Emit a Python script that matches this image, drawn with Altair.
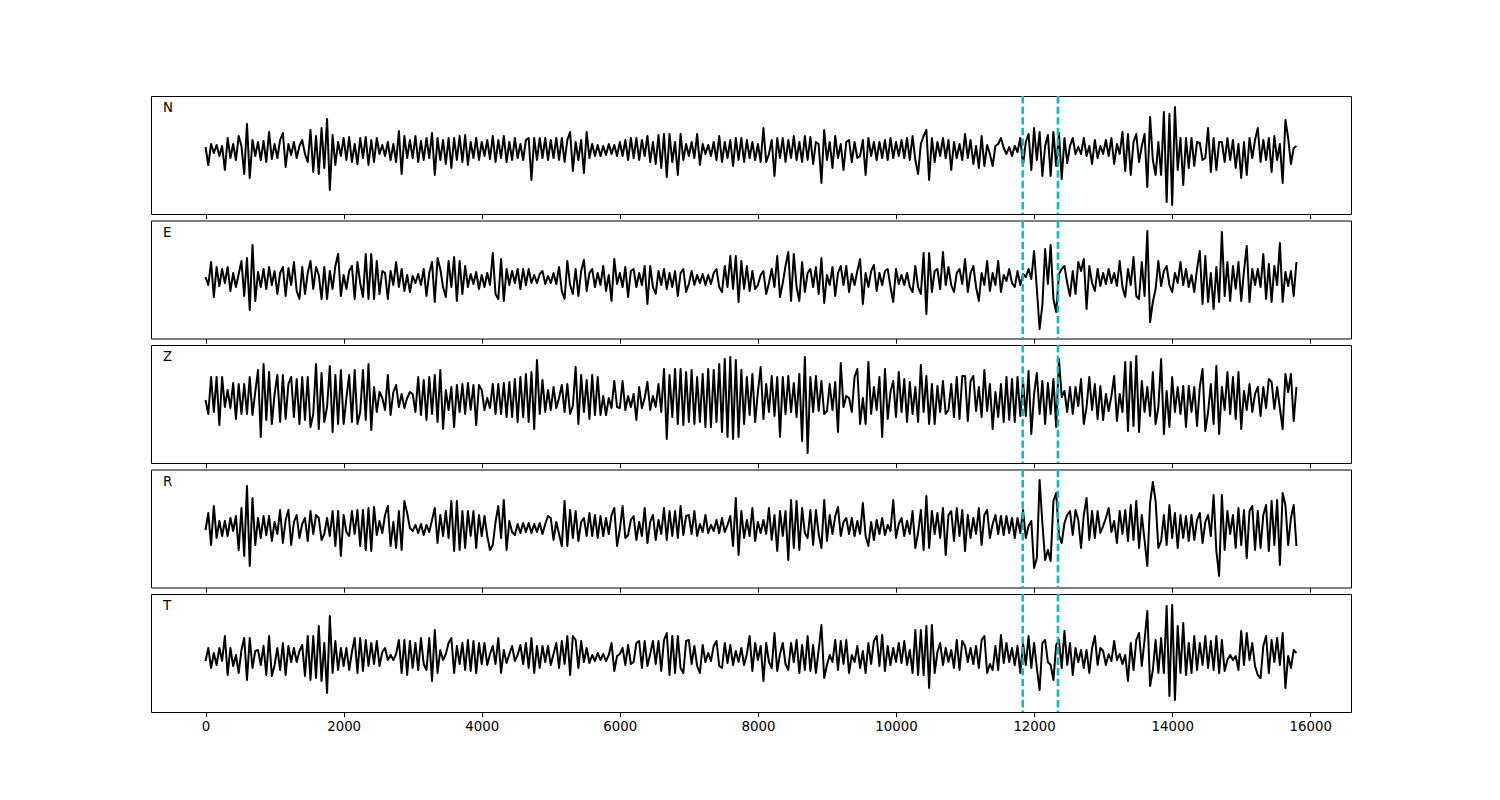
import altair as alt
import numpy as np
import pandas as pd

# sample spacing of the traces (time units)
STEP = 40
components = ["N", "E", "Z", "R", "T"]
tick_values = [0, 2000, 4000, 6000, 8000, 10000, 12000, 14000, 16000]
arrivals = [11835, 12345]

# amplitudes, 1000-unit chunks
N_chunks = [
    [3,-15,6,-3,5,-6,4,-20,12,-8,6,-10,14,4,-24,26,-28,10,-6,8,-10,9,-12,18,-9],
    [6,-8,10,17,-17,6,-5,8,-8,4,10,-4,-12,20,-22,14,-24,22,-18,31,-40,15,-15,8,-6],
    [12,-10,13,-12,6,-14,12,-8,13,-15,10,-12,12,-4,5,-6,8,-10,6,-12,19,-24,14,-8,10],
    [-8,14,-12,9,-10,12,-8,17,-25,12,-10,10,-14,12,-18,12,-10,14,-12,15,-15,8,-8,12,-10],
    [8,-6,10,-9,14,-12,10,-8,14,-12,8,-10,12,-8,6,-10,10,12,-30,12,-10,12,-8,12,-10],
    [10,-8,12,-10,12,-12,10,18,-21,8,-10,10,-23,18,-8,6,-6,5,-6,4,-5,6,-4,5,-6],
    [8,-6,10,-10,12,-8,12,-10,10,-6,14,-12,8,-14,15,-18,16,-27,16,-12,8,-25,16,-10,6],
    [-6,8,-8,16,-15,6,-4,5,-6,8,-10,14,-12,8,-8,10,-16,12,-10,12,-12,10,-8,8,-10],
    [6,-12,22,-12,-4,10,-26,12,-8,12,-12,10,-8,14,-10,8,-12,14,-10,13,-14,8,6,-33,20],
    [-10,8,-18,14,-8,6,-20,8,10,-12,8,-8,-6,10,-25,12,-6,8,-10,8,-8,10,-10,12,-8],
    [8,-6,10,-8,12,-10,14,-10,-24,6,14,20,-30,12,-12,8,-6,12,-8,10,-20,8,-8,6,-10],
    [16,-8,10,-14,4,-18,14,-16,5,-4,-16,4,6,12,2,-4,3,-6,4,-2,12,-15,8,16,-20],
    [22,-10,18,-26,4,15,-26,18,-16,17,-29,12,-13,4,12,-4,3,-4,12,-6,4,-14,10,-8,4],
    [-4,10,-6,12,-14,6,-4,18,-21,16,-25,8,16,-12,4,16,-37,33,-10,-25,8,-25,38,-52,36],
    [-55,43,-20,12,-35,12,-18,12,-16,8,7,-10,-8,22,-22,12,-20,8,8,-12,12,-10,10,-18,6],
    [-28,8,-25,12,-8,10,22,-12,10,-10,12,-22,14,-10,6,-33,30,12,-14,2,4],
]
E_chunks = [
    [2,-6,17,-18,12,-7,10,-4,12,-12,6,-8,5,18,-17,21,-31,34,-22,7,-8,10,-10,12,-6],
    [8,-15,6,12,-17,11,-6,17,-12,-20,12,-15,6,18,-10,12,4,-20,12,-20,8,-10,13,25,-17],
    [4,-10,8,13,-20,17,-4,-18,25,-20,25,-20,18,-15,8,6,-20,8,-6,17,-8,10,-12,4,-13],
    [3,-4,5,-6,10,-17,6,17,-23,21,10,-8,-18,18,-8,22,-22,18,-15,13,-8,5,-5,7,-10],
    [4,-8,6,-6,26,-15,-20,20,-22,10,-6,8,-4,10,-10,10,-6,10,-4,4,-4,5,8,-5,3],
    [-4,6,-5,12,-12,-20,18,-6,-15,10,-17,8,19,-12,6,10,-8,6,-6,13,-12,4,-22,20,-5],
    [6,-8,12,-18,8,10,-8,6,-6,13,-25,13,-8,-15,8,-6,10,-10,6,-8,8,-17,6,10,-13],
    [-5,8,-6,4,-4,5,-6,4,-5,6,10,-8,-13,13,-8,23,-10,23,-23,18,-10,13,-12,8,-10],
    [-6,4,8,-15,-4,10,-8,23,-18,-4,13,27,-22,25,-8,-22,17,-13,6,10,-8,12,-15,21,-24],
    [4,-6,12,-17,6,13,-6,13,-13,5,-6,8,20,-25,6,-8,8,14,-12,6,-6,8,10,-8,-23],
    [10,-5,4,-6,6,-8,-13,13,-8,-15,26,-35,26,-13,8,10,-10,27,-6,12,-6,-13,6,10,-5],
    [20,-13,6,13,-8,-22,6,-6,18,-12,6,-6,18,-13,4,-2,10,-4,-8,8,-6,5,2,10,0],
    [28,-10,-50,-26,30,-5,34,-20,-33,5,10,13,-4,-17,8,-15,17,8,20,-30,13,-4,-12,10,-7],
    [6,-5,10,-4,6,-7,18,-8,-18,10,-6,22,-17,-20,17,-17,48,-43,-23,-10,18,-7,8,13,-6],
    [-13,6,-4,17,-6,10,-8,4,-13,10,28,-25,23,-23,6,-30,12,-23,47,-17,17,-22,13,-10,17],
    [-22,8,33,-23,10,-6,10,-8,25,-20,15,-23,13,-6,36,-23,7,-7,8,-17,17],
]
Z_chunks = [
    [2,-12,25,-10,25,-23,25,-5,12,-6,19,-17,18,-12,18,-12,25,-13,10,32,-35,38,-18,30,-22],
    [8,27,-20,27,-17,18,25,-15,23,-22,25,-18,25,-25,-12,38,-27,29,-20,-5,36,-30,27,-22,32],
    [-22,4,27,-20,32,-22,-10,32,-18,38,-28,15,-10,10,4,-8,27,-13,10,17,-5,8,-6,4,10],
    [8,-10,25,-13,22,-18,25,-12,27,-20,32,-27,12,-8,15,-25,17,-10,18,-12,19,-8,17,-23,17],
    [12,-8,4,-6,18,-12,18,-12,19,-15,20,-15,23,-20,25,-15,28,-20,30,-27,42,-12,22,-10,12],
    [-8,15,-6,4,17,-10,18,-12,-4,35,-22,27,-10,22,-17,27,-13,25,-13,6,-13,4,-6,21,-5],
    [-6,21,-8,6,-5,8,-18,15,-6,4,20,-8,6,-5,18,-10,33,-37,27,-15,33,-22,33,-23,30],
    [-20,32,-22,25,-20,28,-25,33,-25,32,-20,38,-30,43,-35,45,-37,42,-35,32,-22,25,-13,28,-20],
    [10,35,-17,18,-10,26,-14,25,-35,25,-12,26,-10,19,-15,28,-39,45,-51,25,-10,26,-9,21,-12],
    [-9,18,-8,20,-30,39,-5,6,4,-10,25,33,-22,4,-22,40,-12,15,-8,25,-35,33,-17,10,21],
    [-15,30,-10,23,-20,20,-12,15,-20,37,-10,26,-22,18,-22,16,-10,21,-12,-8,18,-15,25,-17,26],
    [26,-19,21,26,-9,15,-15,32,-9,18,-27,10,-15,18,-20,25,-18,23,-20,25,-14,21,-14,31,-32],
    [8,29,-12,21,-22,19,-12,23,-25,43,5,11,-10,15,-12,15,-4,23,-22,-5,25,-8,18,-17,16],
    [-18,8,-9,6,26,-19,8,-10,40,-29,40,-24,46,-30,21,-10,15,-14,30,-22,-5,43,-32,11,-25],
    [25,-10,15,-12,16,-25,16,-10,15,-24,15,33,-29,-10,18,-22,36,-32,15,-8,30,-12,25,-17,30],
    [-27,11,-8,18,-10,8,15,-14,15,-6,23,20,-7,15,-6,-27,28,10,28,-19,15],
]
R_chunks = [
    [-2,15,-17,22,-10,7,-8,7,-8,10,-3,12,-22,20,-28,42,-38,30,-17,10,-10,12,-7,12,-13],
    [6,-6,18,-15,8,18,-17,6,13,-10,4,10,-13,17,-6,13,10,-12,-6,10,-8,17,-18,17,-28],
    [13,-4,-8,17,-6,18,-18,18,-22,20,-23,21,-7,7,-5,13,22,-18,6,-20,17,-22,27,15,0],
    [-3,3,-5,4,-7,3,-4,8,20,-15,13,-8,17,-10,27,-23,27,-22,17,-20,17,-8,17,-20,13],
    [-8,12,-8,-22,-17,6,22,-10,28,-22,7,-4,-7,4,-5,5,-4,5,-5,4,-4,5,-6,4,12],
    [10,-12,6,-6,-18,27,-18,18,-10,17,-13,6,10,-8,15,-8,13,-10,12,-8,10,-6,13,20,-18],
    [-2,22,-10,-7,8,12,-12,6,-8,20,-15,6,13,-12,8,-6,20,-12,17,-8,17,-10,22,-7,12],
    [13,-6,17,-8,4,-4,13,-5,3,-3,8,-5,10,-4,3,12,-18,30,-27,17,-10,8,-8,20,-13],
    [6,-5,8,-6,20,-12,13,-23,17,-8,17,-32,28,-20,27,-22,20,-5,-10,18,-17,18,-6,-20,28],
    [-13,13,-6,12,21,-8,6,10,-6,10,-8,7,-6,25,-8,-18,6,-12,8,-6,10,-7,3,-3,28],
    [-10,4,10,-8,7,-6,17,-20,-5,18,-22,32,-20,17,-6,15,-10,20,-27,13,17,-13,20,-8,18],
    [-23,13,-10,10,-6,20,-17,13,18,-10,4,13,-6,12,-7,12,-5,10,-10,10,-5,18,-10,2,7],
    [-40,-30,48,5,-32,-22,-33,27,35,-7,-15,5,13,17,-7,18,8,-20,13,30,-12,17,-10,17,-5],
    [2,10,20,-4,7,-15,17,-6,18,-13,23,-12,27,-20,13,-12,-38,25,46,27,-20,-13,13,-17,23],
    [-10,15,-20,13,-10,12,-13,13,-12,8,15,-15,6,13,-8,33,-23,-48,33,-22,17,-6,13,-20,20],
    [-17,18,-30,17,22,-22,17,-20,13,23,-23,27,-17,28,-37,35,23,-17,10,23,-18],
]
T_chunks = [
    [-3,10,-10,5,-7,10,-3,22,-17,10,-8,3,-15,8,20,-22,20,-10,7,8,-7,12,-17,22,-18],
    [-7,10,-12,15,-17,12,-4,10,-4,7,13,-18,22,-22,22,-20,32,-23,15,-35,42,-15,17,-12,10],
    [-8,10,-12,6,20,-15,20,-13,18,-8,15,-6,17,-8,6,10,-2,3,-2,4,18,-15,18,-17,17],
    [-10,15,-12,20,-6,-12,20,-23,28,-15,8,-2,4,15,20,-15,12,-6,15,-12,18,-13,17,-15,15],
    [-6,15,-7,4,12,-6,20,-15,8,-5,4,12,-3,3,13,-6,15,-10,20,-15,12,-10,12,-4,12],
    [-7,4,15,-10,17,-6,22,-17,22,18,-10,17,-4,10,-5,3,-3,5,-2,4,-3,3,15,-13,2],
    [4,10,-7,13,-6,-4,15,17,-10,17,-8,4,17,-6,17,-13,18,25,-17,22,-15,22,-10,-15,17],
    [18,-6,12,-8,-15,13,-4,5,-3,12,17,-8,-10,15,-5,13,-7,7,-4,10,-7,4,22,-13,15],
    [-2,12,-23,15,-4,-10,25,-13,4,15,-6,-12,15,-4,18,-15,13,-12,22,-13,13,-15,8,33,-20],
    [-7,3,-4,18,-12,17,-6,18,-15,3,-4,12,-10,7,-15,15,-6,17,22,-8,23,-13,12,-7,10],
    [-4,15,-5,17,-7,8,-15,28,-17,28,-17,32,-30,33,-15,6,15,-7,10,-4,8,-10,18,-12,17],
    [12,-4,10,-6,12,-10,18,22,-15,-6,-12,12,-12,23,-5,15,-4,10,-7,12,-15,15,-7,22,-10],
    [15,-10,-32,15,18,-4,-7,-22,13,18,-10,27,-7,15,-17,10,-4,8,-10,8,-15,10,22,-7,10],
    [7,-7,4,-3,17,-2,4,-6,3,-23,15,-12,18,25,-8,18,47,-28,-12,18,-15,20,-15,52,-38],
    [53,-42,32,-15,35,-17,15,-15,22,-12,15,-7,22,-10,17,-12,22,-15,18,-13,-2,3,-2,2,-12],
    [27,-7,25,-2,15,-8,-17,-20,12,22,-15,18,-4,20,-7,25,-30,2,-10,8,5],
]

traces = {"N": N_chunks, "E": E_chunks, "Z": Z_chunks, "R": R_chunks, "T": T_chunks}

# vertical ranges of each panel (amplitude units)
y_domains = {
    "N": [-64, 54],
    "E": [-59.5, 58.5],
    "Z": [-61, 57],
    "R": [-59.5, 58.5],
    "T": [-54, 64],
}

x_scale = alt.Scale(domain=[-790, 16590], nice=False, zero=False)
FONT = "DejaVu Sans"


def panel(name, last):
    amps = [v for chunk in traces[name] for v in chunk]
    df = pd.DataFrame({"t": np.arange(len(amps)) * STEP, "amp": amps})
    x_axis = alt.Axis(
        values=tick_values, labels=last, ticks=True, grid=False, domain=False,
        tickSize=4.67, tickWidth=1, tickColor="black", labelFont=FONT,
        labelFontSize=13.33, labelColor="black", labelPadding=3,
        title=None, format="d",
    )
    line = alt.Chart(df).mark_line(
        color="black", strokeWidth=2, strokeJoin="round"
    ).encode(
        x=alt.X("t:Q", scale=x_scale, axis=x_axis),
        y=alt.Y("amp:Q", scale=alt.Scale(domain=y_domains[name], nice=False, zero=False), axis=None),
    )
    rules = alt.Chart(pd.DataFrame({"t": arrivals})).mark_rule(
        color="#00bfbf", strokeWidth=2.5, strokeDash=[7.4, 3.2]
    ).encode(x=alt.X("t:Q", scale=x_scale))
    label = alt.Chart(pd.DataFrame({"c": [name]})).mark_text(
        align="left", baseline="alphabetic", font=FONT, fontSize=13.33, color="black"
    ).encode(x=alt.value(12), y=alt.value(16), text="c:N")
    return alt.layer(line, rules, label).properties(width=1200, height=118)


panels = [panel(c, c == components[-1]) for c in components]

chart = alt.vconcat(*panels, spacing=6.5, bounds="flush").properties(
    padding={"left": 142, "top": 86, "right": 10, "bottom": 10}
).configure_view(stroke="black", strokeWidth=1)

chart.save("out.html", embed_options={"renderer": "svg", "actions": False})
